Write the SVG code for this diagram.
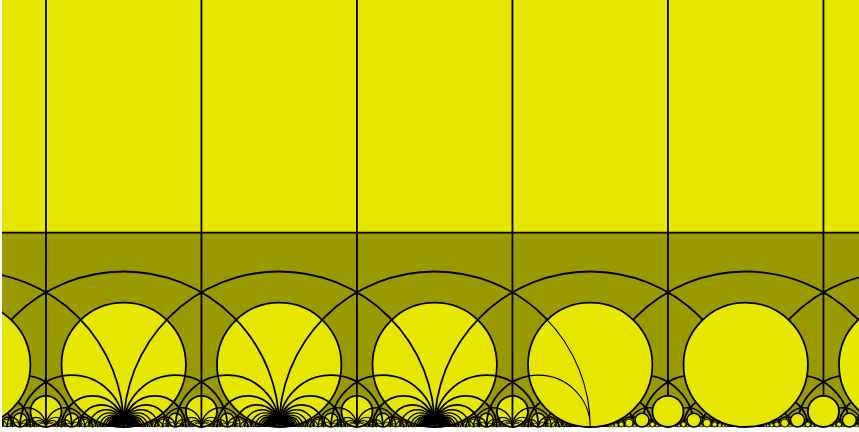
<svg xmlns="http://www.w3.org/2000/svg" width="859" height="432" viewBox="0 0 859 432">
<style>
.e{fill:none;stroke:#000;stroke-width:1.8}
.f{fill:none;stroke:#000;stroke-width:1.4}
.s{fill:none;stroke:#000;stroke-width:1.1}
.t{fill:none;stroke:#000;stroke-width:0.8}
.h{fill:#e6e600;stroke:#000;stroke-width:1.8}
.h1{fill:#e6e600;stroke:#000;stroke-width:1.4}
.h2{fill:#e6e600;stroke:#000;stroke-width:0.9}
.h3{fill:#e6e600;stroke:#000;stroke-width:0.5}
</style>
<defs>
<clipPath id="clip"><rect x="2" y="0" width="857" height="428"/></clipPath>
<clipPath id="c3"><circle cx="590.2" cy="364.8" r="62.2"/></clipPath>
<g id="hbInt"><circle cx="0" cy="-62.2" r="62.2" class="h"/></g>
<g id="hbFrac">
<circle cx="77.75" cy="-15.55" r="15.55" class="h"/>
<circle cx="51.833" cy="-6.911" r="6.911" class="h1"/>
<circle cx="103.667" cy="-6.911" r="6.911" class="h1"/>
<circle cx="38.875" cy="-3.888" r="3.888" class="h2"/>
<circle cx="116.625" cy="-3.888" r="3.888" class="h2"/>
<circle cx="31.1" cy="-2.488" r="2.488" class="h2"/>
<circle cx="62.2" cy="-2.488" r="2.488" class="h2"/>
<circle cx="93.3" cy="-2.488" r="2.488" class="h2"/>
<circle cx="124.4" cy="-2.488" r="2.488" class="h2"/>
<circle cx="25.917" cy="-1.728" r="1.728" class="h3"/>
<circle cx="129.583" cy="-1.728" r="1.728" class="h3"/>
<circle cx="22.214" cy="-1.269" r="1.269" class="h3"/>
<circle cx="44.429" cy="-1.269" r="1.269" class="h3"/>
<circle cx="66.643" cy="-1.269" r="1.269" class="h3"/>
<circle cx="88.857" cy="-1.269" r="1.269" class="h3"/>
<circle cx="111.071" cy="-1.269" r="1.269" class="h3"/>
<circle cx="133.286" cy="-1.269" r="1.269" class="h3"/>
<circle cx="19.438" cy="-0.972" r="0.972" class="h3"/>
<circle cx="58.313" cy="-0.972" r="0.972" class="h3"/>
<circle cx="97.188" cy="-0.972" r="0.972" class="h3"/>
<circle cx="136.063" cy="-0.972" r="0.972" class="h3"/>
</g>
<g id="edgesP">
<path class="e" d="M77.75 0V-427"/>
<path class="e" d="M-155.5 0A155.5 155.5 0 0 1 155.5 0"/>
<path class="e" d="M0 0A51.833 51.833 0 0 1 103.667 0M0 0A31.1 31.1 0 0 1 62.2 0M0 0A22.214 22.214 0 0 1 44.429 0M51.833 0A51.833 51.833 0 0 1 155.5 0M93.3 0A31.1 31.1 0 0 1 155.5 0M111.071 0A22.214 22.214 0 0 1 155.5 0"/>
<path class="f" d="M0 0A17.278 17.278 0 0 1 34.556 0M0 0A14.136 14.136 0 0 1 28.273 0M0 0A11.962 11.962 0 0 1 23.923 0M0 0A10.367 10.367 0 0 1 20.733 0M0 0A9.147 9.147 0 0 1 18.294 0M0 0A8.184 8.184 0 0 1 16.368 0M0 0A7.405 7.405 0 0 1 14.81 0M0 0A6.761 6.761 0 0 1 13.522 0M0 0A6.22 6.22 0 0 1 12.44 0M0 0A5.759 5.759 0 0 1 11.519 0M0 0A5.362 5.362 0 0 1 10.724 0M0 0A5.016 5.016 0 0 1 10.032 0M0 0A4.712 4.712 0 0 1 9.424 0M0 0A4.443 4.443 0 0 1 8.886 0M0 0A4.203 4.203 0 0 1 8.405 0M0 0A3.987 3.987 0 0 1 7.974 0M0 0A3.793 3.793 0 0 1 7.585 0M0 0A3.38 3.38 0 0 1 6.76 0M0 0A3.05 3.05 0 0 1 6.1 0M0 0A2.7 2.7 0 0 1 5.4 0M0 0A2.3 2.3 0 0 1 4.6 0"/>
<path class="f" d="M120.944 0A17.278 17.278 0 0 1 155.5 0M127.227 0A14.136 14.136 0 0 1 155.5 0M131.577 0A11.962 11.962 0 0 1 155.5 0M134.767 0A10.367 10.367 0 0 1 155.5 0M137.206 0A9.147 9.147 0 0 1 155.5 0M139.132 0A8.184 8.184 0 0 1 155.5 0M140.69 0A7.405 7.405 0 0 1 155.5 0M141.978 0A6.761 6.761 0 0 1 155.5 0M143.06 0A6.22 6.22 0 0 1 155.5 0M143.981 0A5.759 5.759 0 0 1 155.5 0M144.776 0A5.362 5.362 0 0 1 155.5 0M145.468 0A5.016 5.016 0 0 1 155.5 0M146.076 0A4.712 4.712 0 0 1 155.5 0M146.614 0A4.443 4.443 0 0 1 155.5 0M147.095 0A4.203 4.203 0 0 1 155.5 0M147.526 0A3.987 3.987 0 0 1 155.5 0M147.915 0A3.793 3.793 0 0 1 155.5 0M148.74 0A3.38 3.38 0 0 1 155.5 0M149.4 0A3.05 3.05 0 0 1 155.5 0M150.1 0A2.7 2.7 0 0 1 155.5 0M150.9 0A2.3 2.3 0 0 1 155.5 0"/>
<path class="f" d="M38.875 0A19.438 19.438 0 0 1 77.75 0M77.75 0A19.438 19.438 0 0 1 116.625 0M31.1 0A10.367 10.367 0 0 1 51.833 0M103.667 0A10.367 10.367 0 0 1 124.4 0"/>
<path class="s" d="M58.313 0A9.719 9.719 0 0 1 77.75 0M77.75 0A9.719 9.719 0 0 1 97.188 0M64.792 0A6.479 6.479 0 0 1 77.75 0M77.75 0A6.479 6.479 0 0 1 90.708 0M51.833 0A7.405 7.405 0 0 1 66.643 0M88.857 0A7.405 7.405 0 0 1 103.667 0M25.917 0A6.479 6.479 0 0 1 38.875 0M116.625 0A6.479 6.479 0 0 1 129.583 0"/>
<path class="t" d="M68.031 0A4.859 4.859 0 0 1 77.75 0M77.75 0A4.859 4.859 0 0 1 87.469 0M69.975 0A3.888 3.888 0 0 1 77.75 0M77.75 0A3.888 3.888 0 0 1 85.525 0M42.409 0A4.712 4.712 0 0 1 51.833 0M103.667 0A4.712 4.712 0 0 1 113.091 0M51.833 0A3.987 3.987 0 0 1 59.808 0M95.692 0A3.987 3.987 0 0 1 103.667 0M38.875 0A3.888 3.888 0 0 1 46.65 0M108.85 0A3.888 3.888 0 0 1 116.625 0M22.214 0A4.443 4.443 0 0 1 31.1 0M124.4 0A4.443 4.443 0 0 1 133.286 0M62.2 0A3.456 3.456 0 0 1 69.111 0M86.389 0A3.456 3.456 0 0 1 93.3 0M56.545 0A2.827 2.827 0 0 1 62.2 0M93.3 0A2.827 2.827 0 0 1 98.955 0M19.438 0A3.24 3.24 0 0 1 25.917 0M129.583 0A3.24 3.24 0 0 1 136.063 0M17.278 0A2.468 2.468 0 0 1 22.214 0M133.286 0A2.468 2.468 0 0 1 138.222 0"/>
</g>
</defs>
<rect width="859" height="432" fill="#fff"/>
<g clip-path="url(#clip)">
<rect id="thick-part" x="0" y="0" width="859" height="427" fill="#999900"/>
<rect id="horoball-infinity" x="0" y="0" width="859" height="232.6" fill="#e6e600"/>
<g id="horoballs-open" transform="translate(123.7,427)">
<use id="hb-0" href="#hbInt" x="0"/>
<use id="hb-1" href="#hbInt" x="155.5"/>
<use id="hb-2" href="#hbInt" x="311"/>
<use id="hbf-m1" href="#hbFrac" x="-155.5"/>
<use id="hbf-0" href="#hbFrac" x="0"/>
<use id="hbf-1" href="#hbFrac" x="155.5"/>
<use id="hbf-2" href="#hbFrac" x="311"/>
</g>
<g id="connectors" transform="translate(123.7,427)">
<use href="#edgesP" x="-155.5"/>
<use href="#edgesP" x="0"/>
<use href="#edgesP" x="155.5"/>
<use href="#edgesP" x="311"/>
<use href="#edgesP" x="466.5"/>
<use href="#edgesP" x="622"/>
<use href="#edgesP" x="777.5"/>
</g>
<g id="horoballs-closed" transform="translate(123.7,427)">
<use id="hb-m1" href="#hbInt" x="-155.5"/>
<use id="hb-3" href="#hbInt" x="466.5"/>
<use id="hb-4" href="#hbInt" x="622"/>
<use id="hb-5" href="#hbInt" x="777.5"/>
<use id="hbf-3" href="#hbFrac" x="466.5"/>
<use id="hbf-4" href="#hbFrac" x="622"/>
<use id="hbf-5" href="#hbFrac" x="777.5"/>
</g>
<g id="inner-3" clip-path="url(#c3)">
<path class="s" d="M279.2 427A155.5 155.5 0 0 1 590.2 427M486.53 427A51.833 51.833 0 0 1 590.2 427"/>
</g>
<path id="horocycle-line" class="e" d="M0 232.6H859"/>
</g>
</svg>
